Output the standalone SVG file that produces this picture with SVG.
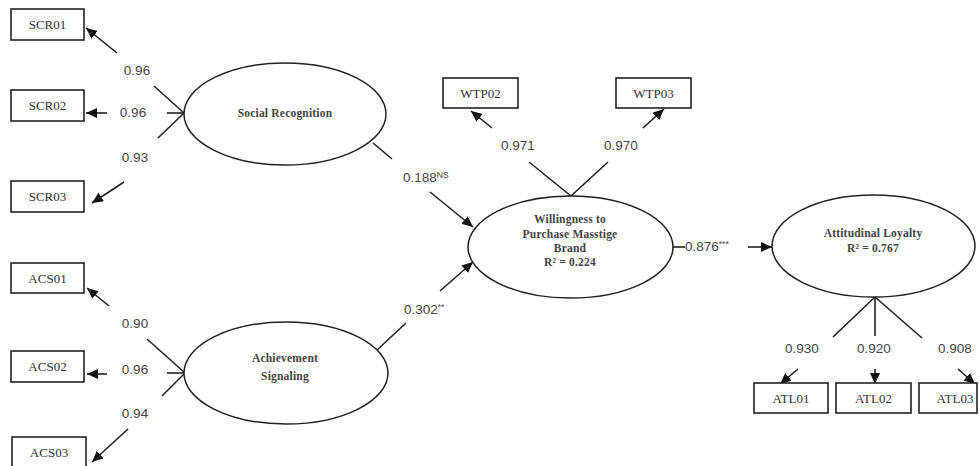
<svg xmlns="http://www.w3.org/2000/svg" width="980" height="466" viewBox="0 0 980 466">
<style>
.box{fill:#fff;stroke:#222;stroke-width:1.6}
.ell{fill:#fff;stroke:#222;stroke-width:1.5}
.bt{font-family:"Liberation Serif",serif;font-size:13px;fill:#333;text-anchor:middle}
.et{font-family:"Liberation Serif",serif;font-size:11.5px;fill:#444;text-anchor:middle;font-weight:bold;letter-spacing:0.2px}
.num{font-family:"Liberation Sans",sans-serif;font-size:13.5px;fill:#444;text-anchor:middle}
.sup{font-size:8.5px}
.ln{stroke:#222;stroke-width:1.6;fill:none}
.ar{stroke:#222;stroke-width:1.6;fill:none;marker-end:url(#ah)}
</style>
<defs>
<marker id="ah" markerUnits="userSpaceOnUse" markerWidth="12" markerHeight="10" refX="11" refY="5" orient="auto">
<path d="M0,0 L11,5 L0,10 z" fill="#111"/>
</marker>
</defs>
<rect width="980" height="466" fill="#fff"/>

<g id="connectors">
<path class="ar" d="M117,53 L86,28"/>
<path class="ln" d="M154,86 L184,113"/>
<path class="ar" d="M107,113 L86,113"/>
<path class="ln" d="M167,113 L184,113"/>
<path class="ln" d="M158,138 L184,113"/>
<path class="ar" d="M124,182 L92,203"/>

<path class="ar" d="M109,306 L87,288"/>
<path class="ln" d="M147,339 L185,373"/>
<path class="ar" d="M107,374 L87,374"/>
<path class="ln" d="M167,373 L185,373"/>
<path class="ln" d="M162,396 L185,373"/>
<path class="ar" d="M128,429 L92,462"/>

<path class="ln" d="M373,143 L392,159"/>
<path class="ar" d="M430,192 L473,227"/>
<path class="ln" d="M377,350 L406,323"/>
<path class="ar" d="M440,291 L473,262"/>
<path class="ln" d="M673,247 L685,247"/>
<path class="ar" d="M748,247 L772,247"/>

<path class="ar" d="M492,128 L471,111"/>
<path class="ln" d="M529,162 L571,196 L608,162"/>
<path class="ar" d="M643,128 L664,109"/>

<path class="ln" d="M833,337 L875,297 L922,338"/>
<path class="ln" d="M875,297 L875,336"/>
<path class="ar" d="M798,369 L780,384"/>
<path class="ar" d="M875,369 L875,384"/>
<path class="ar" d="M958,369 L975,384"/>

<text class="num" x="137" y="75">0.96</text>
<text class="num" x="133" y="117">0.96</text>
<text class="num" x="135" y="162">0.93</text>
<text class="num" x="135" y="328">0.90</text>
<text class="num" x="135" y="374">0.96</text>
<text class="num" x="135" y="418">0.94</text>
<text class="num" x="518" y="150">0.971</text>
<text class="num" x="621" y="150">0.970</text>
<text class="num" x="802" y="353">0.930</text>
<text class="num" x="874" y="353">0.920</text>
<text class="num" x="955" y="353">0.908</text>
<text class="num" x="403" y="182" style="text-anchor:start">0.188<tspan class="sup" dy="-4">NS</tspan></text>
<text class="num" x="404" y="314" style="text-anchor:start">0.302<tspan class="sup" dy="-4">**</tspan></text>
<text class="num" x="685" y="251" style="text-anchor:start">0.876<tspan class="sup" dy="-4">***</tspan></text>
</g>

<g id="SCR01"><rect class="box" x="11" y="9" width="73" height="31"/><text class="bt" x="47.5" y="29">SCR01</text></g>
<g id="SCR02"><rect class="box" x="11" y="90" width="73" height="31"/><text class="bt" x="47.5" y="110">SCR02</text></g>
<g id="SCR03"><rect class="box" x="11" y="181" width="73" height="31"/><text class="bt" x="47.5" y="201">SCR03</text></g>
<g id="ACS01"><rect class="box" x="11" y="263" width="73" height="30"/><text class="bt" x="47.5" y="283">ACS01</text></g>
<g id="ACS02"><rect class="box" x="11" y="351" width="73" height="31"/><text class="bt" x="47.5" y="371">ACS02</text></g>
<g id="ACS03"><rect class="box" x="12" y="437" width="74" height="32"/><text class="bt" x="49" y="457">ACS03</text></g>
<g id="WTP02"><rect class="box" x="443" y="78" width="75" height="30"/><text class="bt" x="480.5" y="98">WTP02</text></g>
<g id="WTP03"><rect class="box" x="616" y="78" width="75" height="30"/><text class="bt" x="653.5" y="98">WTP03</text></g>
<g id="ATL01"><rect class="box" x="754" y="383" width="74" height="30"/><text class="bt" x="791" y="403">ATL01</text></g>
<g id="ATL02"><rect class="box" x="836" y="383" width="75" height="30"/><text class="bt" x="873.5" y="403">ATL02</text></g>
<g id="ATL03"><rect class="box" x="919" y="383" width="58" height="30"/><text class="bt" x="955" y="403">ATL03</text></g>

<g id="SocialRecognition"><ellipse class="ell" cx="285" cy="114" rx="101" ry="51"/><text class="et" x="285" y="117">Social Recognition</text></g>
<g id="AchievementSignaling"><ellipse class="ell" cx="286" cy="373" rx="102" ry="51"/><text class="et" x="285" y="362">Achievement</text><text class="et" x="285" y="380">Signaling</text></g>
<g id="Willingness"><ellipse class="ell" cx="570.5" cy="247" rx="102.5" ry="51"/>
<text class="et" x="570" y="223">Willingness to</text>
<text class="et" x="570" y="238">Purchase Masstige</text>
<text class="et" x="570" y="252">Brand</text>
<text class="et" x="570" y="266">R² = 0.224</text></g>
<g id="AttitudinalLoyalty"><ellipse class="ell" cx="873.5" cy="246" rx="101.5" ry="51"/>
<text class="et" x="873" y="237">Attitudinal Loyalty</text>
<text class="et" x="873" y="252">R² = 0.767</text></g>
</svg>
